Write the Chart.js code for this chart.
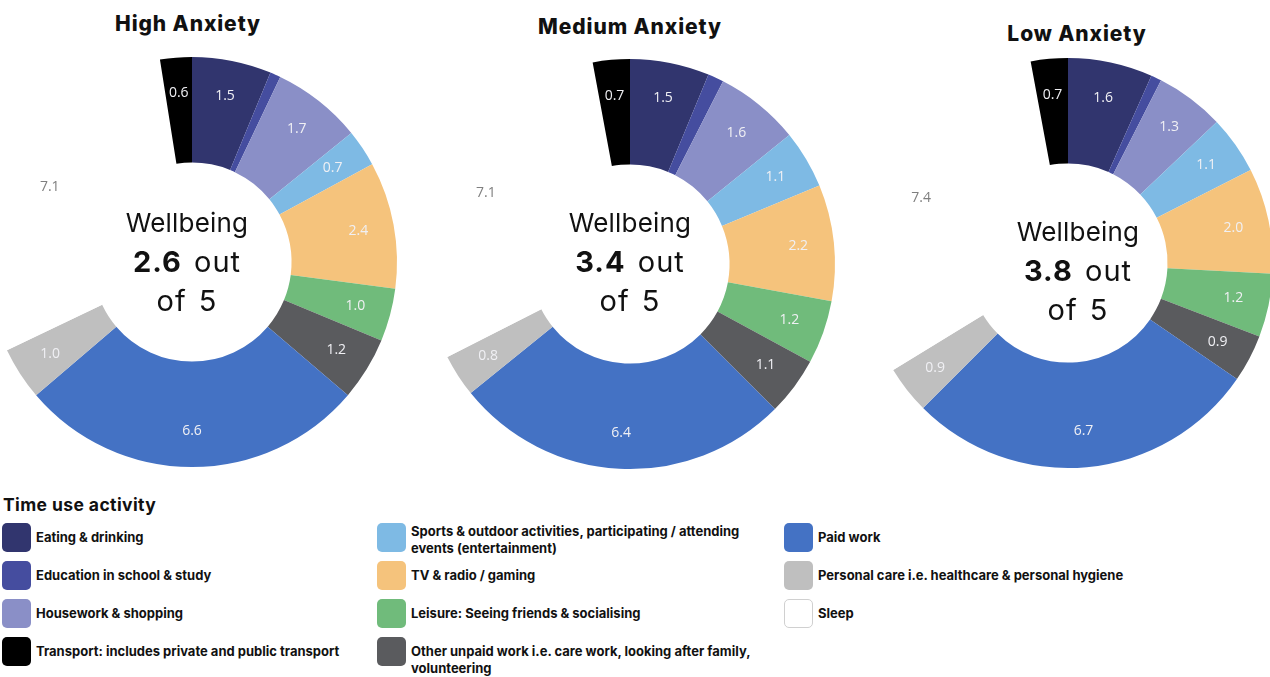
<!DOCTYPE html>
<html>
<head>
<meta charset="utf-8">
<script src="https://cdn.jsdelivr.net/npm/chart.js@4.4.1/dist/chart.umd.min.js"></script>
<style>
  body { margin: 0; width: 1270px; height: 677px; overflow: hidden; background: #fff; position: relative; font-family: Inter, "Open Sans", sans-serif; color: #111; }
  .panel { position: absolute; width: 420px; height: 420px; }
  .ttl { position: absolute; transform: translateX(-50%); white-space: nowrap; font-weight: 800; font-size: 21px; line-height: 24px; letter-spacing: 0.9px; }
  .mid { position: absolute; transform: translateX(-50%); text-align: center; white-space: nowrap; font-size: 29px; line-height: 39px; }
  .mid .l1 { font-size: 26px; letter-spacing: 0.2px; }
  .mid .l2, .mid .l3 { letter-spacing: 1px; word-spacing: 3px; }
  .mid b { font-weight: 700; }
  .lg-title { position: absolute; left: 3px; top: 495px; font-weight: 700; font-size: 17.5px; line-height: 20px; letter-spacing: 0.4px; }
  .lg-item { position: absolute; display: flex; align-items: flex-start; }
  .sw { width: 29px; height: 29px; border-radius: 5px; flex: none; box-sizing: border-box; }
  .lt { margin-left: 5px; font-weight: 700; font-size: 13px; line-height: 17px; padding-top: 6px; max-width: 356px; }
</style>
</head>
<body>

<script>
const categories = [
  'Eating & drinking',
  'Education in school & study',
  'Housework & shopping',
  'Sports & outdoor activities, participating / attending events (entertainment)',
  'TV & radio / gaming',
  'Leisure: Seeing friends & socialising',
  'Other unpaid work i.e. care work, looking after family, volunteering',
  'Paid work',
  'Personal care i.e. healthcare & personal hygiene',
  'Sleep',
  'Transport: includes private and public transport'
];

// hours per day, same order as categories
const highAnxiety   = [1.5, 0.2, 1.7, 0.7, 2.4, 1.0, 1.2, 6.6, 1.0, 7.1, 0.6];
const mediumAnxiety = [1.5, 0.3, 1.6, 1.1, 2.2, 1.2, 1.1, 6.4, 0.8, 7.1, 0.7];
const lowAnxiety    = [1.6, 0.2, 1.3, 1.1, 2.0, 1.2, 0.9, 6.7, 0.9, 7.4, 0.7];

const panelTitles = ['High Anxiety', 'Medium Anxiety', 'Low Anxiety'];
const wellbeing = [2.6, 3.4, 3.8];

const colours = ['#31356e', '#454d9f', '#8a8fc7', '#7ebae4', '#f5c37c', '#70bb7b',
                 '#5a5b5e', '#4472c4', '#bfbfbf', '#ffffff', '#000000'];

// legend columns (indices into categories)
const legendColumns = [[0, 1, 2, 10], [3, 4, 5, 6], [7, 8, 9]];

// layout
const panels = [
  { cx: 192, cy: 262, titleX: 188, titleTop: 12, midX: 187, midTop: 203 },
  { cx: 630, cy: 264, titleX: 630, titleTop: 15, midX: 630, midTop: 203 },
  { cx: 1068, cy: 263, titleX: 1077, titleTop: 22, midX: 1078, midTop: 212 }
];
const legendX = [2, 377, 784];
const legendY = [523, 561, 599, 637];

const sliceLabels = {
  id: 'sliceLabels',
  afterDatasetsDraw(chart) {
    const ctx = chart.ctx;
    const meta = chart.getDatasetMeta(0);
    const values = chart.data.datasets[0].data;
    ctx.save();
    ctx.font = '14px "Open Sans"';
    ctx.textAlign = 'center';
    ctx.textBaseline = 'middle';
    meta.data.forEach((arc, i) => {
      if (values[i] < 0.5) return;
      const p = arc.getProps(['x', 'y', 'startAngle', 'endAngle', 'innerRadius', 'outerRadius']);
      const a = (p.startAngle + p.endAngle) / 2;
      const white = colours[i] === '#ffffff';
      const r = p.innerRadius + (white ? 0.58 : 0.66) * (p.outerRadius - p.innerRadius);
      ctx.fillStyle = white ? '#7f7f7f' : '#f0f0f4';
      ctx.fillText(values[i].toFixed(1), p.x + Math.cos(a) * r, p.y + Math.sin(a) * r);
    });
    ctx.restore();
  }
};

function makePanel(k, values) {
  const pos = panels[k];
  const canvas = document.createElement('canvas');
  canvas.className = 'panel';
  canvas.width = 420;
  canvas.height = 420;
  canvas.style.left = (pos.cx - 210) + 'px';
  canvas.style.top = (pos.cy - 210) + 'px';
  document.body.appendChild(canvas);

  new Chart(canvas, {
    type: 'doughnut',
    data: {
      labels: categories,
      datasets: [{
        data: values,
        backgroundColor: colours,
        borderWidth: 0,
        hoverOffset: 0
      }]
    },
    options: {
      responsive: false,
      animation: false,
      radius: 205,
      cutout: 102,
      layout: { padding: 0 },
      plugins: { legend: { display: false }, tooltip: { enabled: false } }
    },
    plugins: [sliceLabels]
  });

  const t = document.createElement('div');
  t.className = 'ttl';
  t.style.left = pos.titleX + 'px';
  t.style.top = pos.titleTop + 'px';
  t.textContent = panelTitles[k];
  document.body.appendChild(t);

  const m = document.createElement('div');
  m.className = 'mid';
  m.style.left = pos.midX + 'px';
  m.style.top = pos.midTop + 'px';
  m.innerHTML = '<div class="l1">Wellbeing</div><div class="l2"><b>' +
    wellbeing[k].toFixed(1) + '</b> out</div><div class="l3">of 5</div>';
  document.body.appendChild(m);
}

makePanel(0, highAnxiety);
makePanel(1, mediumAnxiety);
makePanel(2, lowAnxiety);

const lgTitle = document.createElement('div');
lgTitle.className = 'lg-title';
lgTitle.textContent = 'Time use activity';
document.body.appendChild(lgTitle);

legendColumns.forEach((col, c) => {
  col.forEach((idx, r) => {
    const item = document.createElement('div');
    item.className = 'lg-item';
    item.style.left = legendX[c] + 'px';
    item.style.top = legendY[r] + 'px';
    const sw = document.createElement('div');
    sw.className = 'sw';
    sw.style.background = colours[idx];
    if (colours[idx] === '#ffffff') sw.style.border = '1.5px solid #d0d0d0';
    const lt = document.createElement('div');
    lt.className = 'lt';
    lt.textContent = categories[idx];
    if (idx === 3) lt.style.paddingTop = '0px';
    item.appendChild(sw);
    item.appendChild(lt);
    document.body.appendChild(item);
  });
});
</script>
</body>
</html>
